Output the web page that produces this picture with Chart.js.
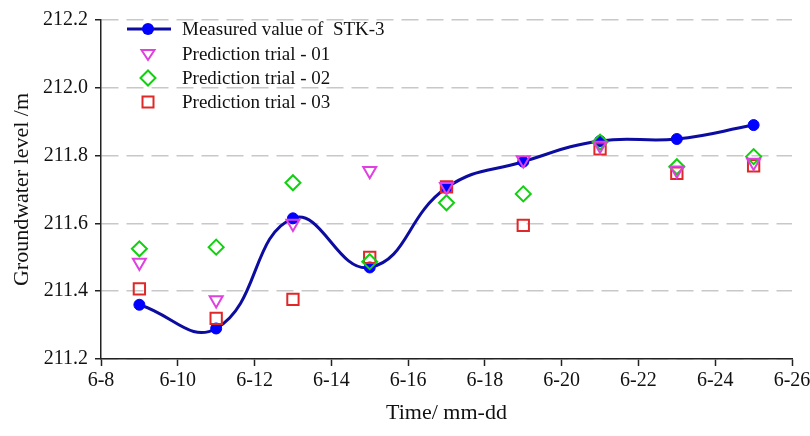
<!DOCTYPE html>
<html>
<head>
<meta charset="utf-8">
<script src="https://cdn.jsdelivr.net/npm/chart.js@4"></script>
<style>
  html, body { margin: 0; padding: 0; background: #fff; }
  #wrap { width: 810px; height: 436px; }
</style>
</head>
<body>
<div id="wrap"><canvas id="chartContainer"></canvas></div>
<script>
// days in June
const days = [9, 11, 13, 15, 17, 19, 21, 23, 25];
const measured = [211.36, 211.29, 211.615, 211.47, 211.705, 211.782, 211.843, 211.849, 211.89];
const trial01 = [211.485, 211.374, 211.60, 211.755, 211.708, 211.787, 211.83, 211.757, 211.78];
const trial02 = [211.525, 211.53, 211.72, 211.487, 211.661, 211.687, 211.84, 211.767, 211.797];
const trial03 = [211.407, 211.32, 211.376, 211.50, 211.708, 211.594, 211.82, 211.748, 211.77];
const xTicks = [8, 10, 12, 14, 16, 18, 20, 22, 24, 26];
const yTicks = [211.2, 211.4, 211.6, 211.8, 212.0, 212.2];
const names = ['Measured value of  STK-3', 'Prediction trial - 01', 'Prediction trial - 02', 'Prediction trial - 03'];

const serif = "'Liberation Serif', 'Times New Roman', serif";
const pts = arr => arr.map((v, i) => ({ x: days[i], y: v }));

// legend drawn inside the plot, top left
const legendInside = {
    id: 'legendInside',
    afterDatasetsDraw(chart) {
        const ctx = chart.ctx;
        const mx = 148, tx = 182;
        const rows = [29, 54, 78, 102];
        ctx.save();
        // measured: line + dot
        ctx.strokeStyle = '#0c0ca0';
        ctx.lineWidth = 3;
        ctx.beginPath(); ctx.moveTo(127, rows[0]); ctx.lineTo(171, rows[0]); ctx.stroke();
        ctx.fillStyle = '#0000ff';
        ctx.beginPath(); ctx.arc(mx, rows[0], 6, 0, Math.PI * 2); ctx.fill();
        ctx.lineWidth = 2;
        // down triangle
        ctx.strokeStyle = '#e040e0';
        ctx.beginPath();
        ctx.moveTo(mx - 6.5, rows[1] - 4); ctx.lineTo(mx + 6.5, rows[1] - 4); ctx.lineTo(mx, rows[1] + 6);
        ctx.closePath(); ctx.stroke();
        // diamond
        ctx.strokeStyle = '#10d010';
        ctx.beginPath();
        ctx.moveTo(mx - 7.5, rows[2]); ctx.lineTo(mx, rows[2] - 7.5); ctx.lineTo(mx + 7.5, rows[2]); ctx.lineTo(mx, rows[2] + 7.5);
        ctx.closePath(); ctx.stroke();
        // square
        ctx.strokeStyle = '#e02828';
        ctx.strokeRect(mx - 5.5, rows[3] - 5.5, 11, 11);
        ctx.fillStyle = '#111';
        ctx.font = '19px ' + serif;
        ctx.textBaseline = 'middle';
        names.forEach((n, i) => ctx.fillText(n, tx, rows[i] + 1));
        ctx.restore();
    }
};

const marker = (color, style, r, rot) => ({
    showLine: false,
    pointStyle: style,
    pointRadius: r,
    pointHoverRadius: r,
    pointRotation: rot || 0,
    pointBorderColor: color,
    pointBackgroundColor: 'rgba(0,0,0,0)',
    pointBorderWidth: 2,
    borderColor: color
});

const config = {
    type: 'line',
    data: {
        datasets: [
            Object.assign({ label: names[1], data: pts(trial01), order: 1 }, marker('#e040e0', 'triangle', 7.5, 180)),
            Object.assign({ label: names[2], data: pts(trial02), order: 2 }, marker('#10d010', 'rectRot', 7.5)),
            Object.assign({ label: names[3], data: pts(trial03), order: 3 }, marker('#e02828', 'rect', 8)),
            {
                label: names[0],
                data: pts(measured),
                order: 4,
                borderColor: '#0c0ca0',
                borderWidth: 3,
                tension: 0.45,
                pointRadius: 5.5,
                pointHoverRadius: 5.5,
                pointBackgroundColor: '#0000ff',
                pointBorderColor: '#0000ff',
                pointBorderWidth: 1
            }
        ]
    },
    options: {
        responsive: true,
        maintainAspectRatio: false,
        animation: false,
        events: [],
        layout: { padding: { top: 20, right: 18, bottom: 0, left: 0 } },
        plugins: { legend: { display: false }, tooltip: { enabled: false } },
        scales: {
            x: {
                type: 'linear',
                min: 8,
                max: 26,
                afterBuildTicks: s => { s.ticks = xTicks.map(v => ({ value: v })); },
                afterFit: s => { s.height = 77; s.paddingRight = 0; s.paddingLeft = 0; },
                ticks: {
                    color: '#111',
                    font: { family: serif, size: 20 },
                    padding: 3,
                    maxRotation: 0,
                    callback: v => '6-' + v
                },
                grid: { drawOnChartArea: false, drawTicks: true, tickLength: 7, tickColor: '#222', tickWidth: 1.5 },
                border: { color: '#222', width: 1.5 },
                title: {
                    display: true,
                    text: 'Time/ mm-dd',
                    color: '#111',
                    font: { family: serif, size: 22 },
                    padding: { top: 0, bottom: 10 }
                }
            },
            y: {
                min: 211.2,
                max: 212.2,
                afterBuildTicks: s => { s.ticks = yTicks.map(v => ({ value: v })); },
                afterFit: s => { s.width = 101; },
                ticks: {
                    color: '#111',
                    font: { family: serif, size: 20 },
                    padding: 7,
                    callback: v => v.toFixed(1)
                },
                grid: { color: '#c8c8c8', lineWidth: 1.5, tickLength: 6, tickColor: '#222', tickWidth: 1.5 },
                border: { color: '#222', width: 1.5, dash: [17, 8] },
                title: {
                    display: true,
                    text: 'Groundwater level /m',
                    color: '#111',
                    font: { family: serif, size: 22 },
                    padding: { top: 9, bottom: 0 }
                }
            }
        }
    },
    plugins: [legendInside]
};

window.onload = function () {
    new Chart(document.getElementById('chartContainer'), config);
};
</script>
</body>
</html>
